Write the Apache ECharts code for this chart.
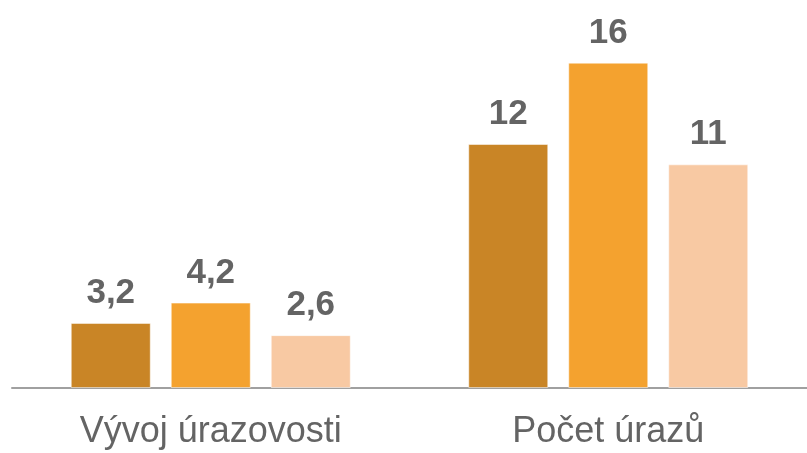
<!DOCTYPE html>
<html>
<head>
<meta charset="utf-8">
<script src="https://cdn.jsdelivr.net/npm/echarts@6/dist/echarts.min.js"></script>
<style>
  html, body { margin: 0; padding: 0; background: #fff; }
  #chart { width: 807px; height: 453px; }
</style>
</head>
<body>
<div id="chart"></div>
<script>
// 数据
const categories = ['Vývoj úrazovosti', 'Počet úrazů']
const seriesA = [3.2, 12]
const seriesB = [4.2, 16]
const seriesC = [2.6, 11]
const barColors = ['#C98526', '#F4A22F', '#F8C9A3']

const chart = echarts.init(document.getElementById('chart'))

// 标签格式：小数用逗号
const fmt = (p) => String(p.value).replace('.', ',')

const makeSeries = (data, color) => ({
  type: 'bar',
  data,
  barWidth: 80,
  barGap: '25%',
  itemStyle: { color, borderColor: 'rgba(255,255,255,0.5)', borderWidth: 1 },
  label: {
    show: true,
    position: 'top',
    distance: 12,
    color: '#646464',
    fontFamily: 'Liberation Sans',
    fontWeight: 'bold',
    fontSize: 35,
    formatter: fmt
  }
})

chart.setOption({
  animation: false,
  grid: { left: 12, width: 802, top: 22, bottom: 65 },
  xAxis: {
    type: 'category',
    data: categories,
    axisLine: { lineStyle: { color: '#A0A0A0', width: 2 } },
    axisTick: { show: false },
    axisLabel: {
      color: '#646464',
      fontFamily: 'Liberation Sans',
      fontSize: 36,
      margin: 26
    }
  },
  yAxis: {
    type: 'value',
    min: 0,
    max: 18,
    show: false,
    splitLine: { show: false }
  },
  series: [
    makeSeries(seriesA, barColors[0]),
    makeSeries(seriesB, barColors[1]),
    makeSeries(seriesC, barColors[2])
  ]
})
</script>
</body>
</html>
